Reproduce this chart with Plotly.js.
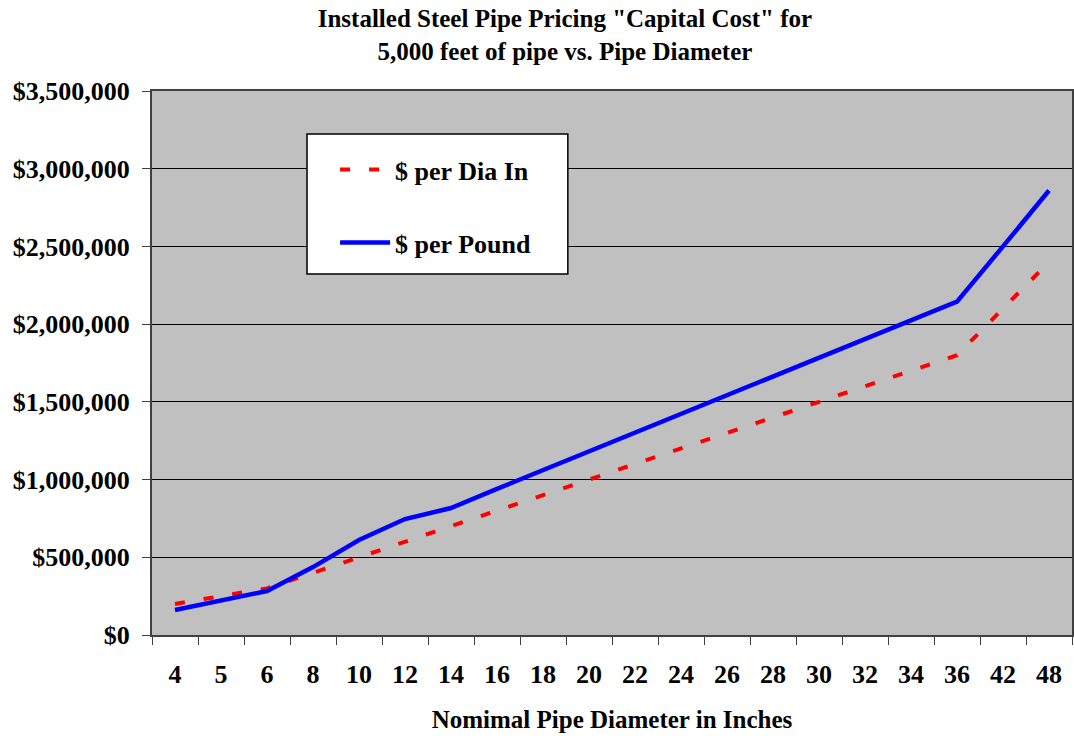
<!DOCTYPE html>
<html>
<head>
<meta charset="utf-8">
<script src="https://cdn.plot.ly/plotly-3.0.1.min.js"></script>
<style>html,body{margin:0;padding:0;background:#fff;}#chart{width:1074px;height:736px;}</style>
</head>
<body>
<div id="chart"></div>
<script>
const diameters = ['4','5','6','8','10','12','14','16','18','20','22','24','26','28','30','32','34','36','42','48'];
const perDiaIn = [200000,250000,300000,400000,500000,600000,700000,800000,900000,1000000,1100000,1200000,1300000,1400000,1500000,1600000,1700000,1800000,2100000,2400000];
const perPound = [161000,221000,283000,437000,611000,746000,817000,940000,1060000,1180000,1300000,1420000,1540000,1660000,1780000,1900000,2020000,2145000,2500000,2860000];

const serif = 'Liberation Serif, Times New Roman, serif';
const traces = [
  {x: diameters, y: perDiaIn, type: 'scatter', mode: 'lines', name: '$ per Dia In',
   legendgroup: 'a', line: {color: '#FF0000', width: 4, dash: '10px,19px'}},
  {x: diameters, y: perPound, type: 'scatter', mode: 'lines', name: '$ per Pound',
   legendgroup: 'b', line: {color: '#0000FF', width: 4.5}}
];
const layout = {
  width: 1074, height: 736,
  margin: {l: 152, r: 2, t: 91, b: 101},
  paper_bgcolor: '#FFFFFF', plot_bgcolor: '#C0C0C0',
  font: {family: serif, color: '#000', size: 26},
  title: {text: '<b>Installed Steel Pipe Pricing "Capital Cost" for<br>5,000 feet of pipe vs. Pipe Diameter</b>',
          x: 0.526, xref: 'container', xanchor: 'center', y: 0.963, yref: 'container', yanchor: 'top',
          font: {family: serif, size: 25, color: '#000'}},
  xaxis: {type: 'category', range: [-0.5, 19.5], tickson: 'boundaries', ticks: 'outside', ticklen: 8,
          tickcolor: '#404040', showgrid: false, showline: true, mirror: true, linecolor: '#404040', linewidth: 2,
          tickfont: {family: serif, size: 26, weight: 'bold'}, ticklabelstandoff: 15,
          title: {text: '<b>Nomimal Pipe Diameter in Inches</b>', font: {family: serif, size: 25}, standoff: 22}},
  yaxis: {range: [0, 3500000], dtick: 500000, tick0: 0, tickprefix: '$', tickformat: ',.0f',
          ticks: 'outside', ticklen: 8, tickcolor: '#404040', showgrid: true, gridcolor: '#000', gridwidth: 1,
          zeroline: false, showline: true, mirror: true, linecolor: '#404040', linewidth: 2,
          tickfont: {family: serif, size: 26, weight: 'bold'}, ticklabelstandoff: 7},
  showlegend: true,
  legend: {x: 0.199, y: 0.8985, xanchor: 'left', yanchor: 'top', bgcolor: 'rgba(0,0,0,0)', borderwidth: 0,
           traceorder: 'grouped', tracegroupgap: 36, itemwidth: 50,
           font: {family: serif, size: 26, weight: 'bold', color: '#000'}},
  shapes: [{type: 'rect', xref: 'paper', yref: 'paper', x0: 0.1685, x1: 0.452, y0: 0.6636, y1: 0.921,
            fillcolor: '#FFFFFF', line: {color: '#000', width: 1.5}, layer: 'above'}]
};
Plotly.newPlot('chart', traces, layout, {displayModeBar: false, staticPlot: true});
</script>
</body>
</html>
